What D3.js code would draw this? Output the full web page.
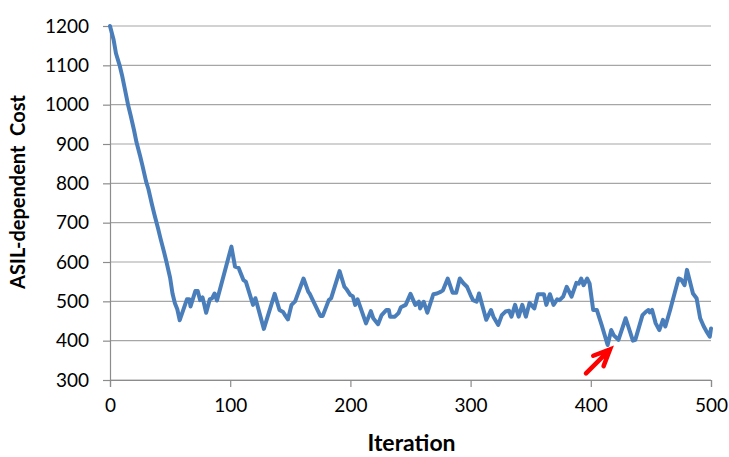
<!DOCTYPE html>
<html>
<head>
<meta charset="utf-8">
<script src="https://cdn.jsdelivr.net/npm/d3@7"></script>
<style>
   body { margin: 0; background: #fff; }
   text { font-family: Lato, "Open Sans", sans-serif; }
</style>
</head>
<body>
<div id="chart"></div>
<script>
// cost per iteration (vertices)
var iterations = [0, 3, 5, 8, 10, 12, 15, 17, 20, 22, 25, 27, 30, 32, 35, 37, 40, 42, 45, 47, 50, 52, 54, 56, 58,
   64, 66, 67, 71, 73, 75, 77, 80, 83, 85, 87, 89, 101, 104, 107, 111, 113, 119, 121, 128, 137, 141, 144, 146, 148,
   151, 154, 161, 165, 166, 170, 175, 177, 182, 184, 191, 195, 197, 200, 202, 204, 206, 213, 217, 219, 223, 226,
   230, 232, 233, 237, 240, 242, 246, 250, 254, 257, 258, 261, 264, 269, 272, 275, 277, 281, 285, 288, 291, 294,
   297, 300, 302, 305, 307, 313, 317, 319, 323, 326, 329, 332, 334, 337, 340, 343, 346, 349, 353, 356, 361, 363,
   366, 369, 372, 374, 377, 380, 384, 388, 390, 392, 394, 397, 399, 402, 405, 409, 414, 417, 419, 423, 429, 435,
   437, 443, 446, 448, 449, 451, 454, 457, 460, 462, 466, 473, 475, 478, 480, 485, 488, 491, 494, 496, 499, 500];
var costs = [1200, 1165, 1130, 1100, 1075, 1045, 1000, 975, 935, 905, 870, 845, 805, 785, 745, 720, 685, 660, 625, 600, 560, 520, 495, 480, 452,
   505, 505, 487, 526, 526, 503, 510, 471, 505, 508, 520, 502, 639, 588, 585, 554, 550, 491, 508, 430, 519, 478, 473, 463, 454,
   491, 500, 558, 524, 520, 495, 463, 463, 503, 508, 577, 537, 530, 516, 513, 491, 505, 444, 475, 457, 442, 465,
   478, 478, 461, 461, 470, 485, 491, 519, 491, 499, 482, 499, 471, 518, 520, 524, 528, 558, 522, 522, 558, 546,
   537, 516, 503, 499, 520, 453, 478, 461, 440, 465, 474, 476, 461, 491, 461, 491, 461, 496, 482, 518, 518, 491,
   518, 491, 505, 503, 512, 537, 512, 547, 545, 558, 541, 558, 545, 478, 478, 440, 389, 427, 414, 402, 457, 400,
   402, 465, 474, 478, 472, 478, 444, 427, 453, 436, 478, 558, 556, 541, 580, 520, 508, 457, 436, 425, 410, 431];

var xTicks = [0, 100, 200, 300, 400, 500];
var yTicks = [300, 400, 500, 600, 700, 800, 900, 1000, 1100, 1200];

// red arrow annotation (tail -> tip, in data units)
var arrowTail = [396, 317];
var arrowTip = [416, 378];

var svgWidth = 729;
var svgHeight = 457;
var margin = { top: 26, right: 18, bottom: 77, left: 110 };
var width = svgWidth - margin.left - margin.right;
var height = svgHeight - margin.top - margin.bottom;

var svg = d3.select("#chart")
   .append("svg")
   .attr("width", svgWidth)
   .attr("height", svgHeight);

var chartGroup = svg.append("g")
   .attr("transform", `translate(${margin.left}, ${margin.top})`);

var xScale = d3.scaleLinear().domain([0, 500]).range([0, width]);
var yScale = d3.scaleLinear().domain([300, 1200]).range([height, 0]);

// horizontal gridlines
chartGroup.selectAll(".grid")
   .data(yTicks)
   .enter()
   .append("line")
   .attr("x1", 0)
   .attr("x2", width)
   .attr("y1", d => yScale(d))
   .attr("y2", d => yScale(d))
   .attr("stroke", "#a6a6a6")
   .attr("stroke-width", 1.2);

// axes
var leftAxis = d3.axisLeft(yScale).tickValues(yTicks).tickFormat(d3.format("d")).tickSize(7).tickPadding(14);
var bottomAxis = d3.axisBottom(xScale).tickValues(xTicks).tickFormat(d3.format("d")).tickSize(7).tickPadding(12);

var yAxis = chartGroup.append("g").call(leftAxis);
var xAxis = chartGroup.append("g")
   .attr("transform", `translate(0, ${height})`)
   .call(bottomAxis);

[xAxis, yAxis].forEach(function (ax) {
   ax.select(".domain").attr("stroke", "#8c8c8c").attr("stroke-width", 1.2);
   ax.selectAll(".tick line").attr("stroke", "#8c8c8c").attr("stroke-width", 1.2);
   ax.selectAll(".tick text")
      .attr("fill", "#000")
      .style("font-family", "Lato, sans-serif")
      .style("font-size", "19px");
});

// cost line
var lineData = iterations.map((d, i) => ({ x: d, y: costs[i] }));
var line = d3.line()
   .x(d => xScale(d.x))
   .y(d => yScale(d.y));

chartGroup.append("path")
   .datum(lineData)
   .attr("d", line)
   .attr("fill", "none")
   .attr("stroke", "#4a7ebb")
   .attr("stroke-width", 4)
   .attr("stroke-linejoin", "round")
   .attr("stroke-linecap", "round");

// arrow
var tx = xScale(arrowTip[0]), ty = yScale(arrowTip[1]);
var sx = xScale(arrowTail[0]), sy = yScale(arrowTail[1]);
var ang = Math.atan2(ty - sy, tx - sx);
var headLen = 18;
var spread = 0.42;
chartGroup.append("path")
   .attr("d", `M${sx},${sy}L${tx},${ty}` +
      `M${tx - headLen * Math.cos(ang - spread)},${ty - headLen * Math.sin(ang - spread)}L${tx},${ty}` +
      `L${tx - headLen * Math.cos(ang + spread)},${ty - headLen * Math.sin(ang + spread)}`)
   .attr("fill", "none")
   .attr("stroke", "#ff0000")
   .attr("stroke-width", 4.5)
   .attr("stroke-linecap", "round")
   .attr("stroke-linejoin", "miter");

// axis titles
chartGroup.append("text")
   .attr("x", width / 2 + 1)
   .attr("y", height + 71)
   .attr("text-anchor", "middle")
   .style("font-size", "23px")
   .style("font-weight", "bold")
   .text("Iteration");

chartGroup.append("text")
   .attr("transform", `translate(${-85}, ${height / 2 - 11}) rotate(-90)`)
   .attr("text-anchor", "middle")
   .style("font-size", "20px")
   .style("font-weight", "bold")
   .style("white-space", "pre")
   .text("ASIL-dependent  Cost");
</script>
</body>
</html>
